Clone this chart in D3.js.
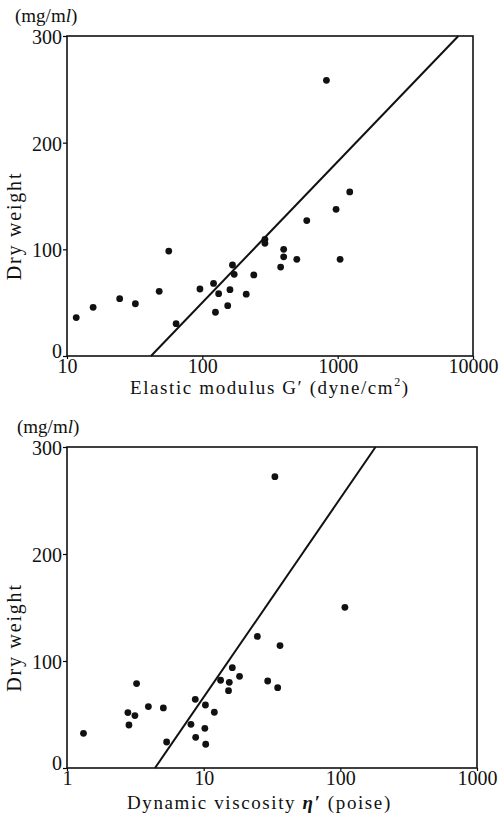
<!DOCTYPE html>
<html>
<head>
<meta charset="utf-8">
<script src="https://cdn.jsdelivr.net/npm/d3@7/dist/d3.min.js"></script>
<style>
    body { margin: 0; background: #fff; }
</style>
</head>
<body>
<div id="chart"></div>
<script>
// values
const modulusG = [11.7, 15.6, 24.5, 32, 48, 56.5, 64, 96, 121, 132, 125, 160, 154, 167, 172, 211,
    240, 290, 290, 399, 399, 379, 499, 591, 973, 1042, 1228, 826];
const dryWeightTop = [36, 45.6, 53.7, 49, 60.6, 98.4, 30.3, 62.8, 68, 58.4, 41, 62.2, 47.2, 85.3, 76.6, 58,
    76, 109.4, 105.6, 100, 93, 83.4, 90.6, 127, 137.5, 90.6, 153.8, 258.4];

const viscosity = [1.32, 2.79, 2.84, 3.14, 3.23, 3.94, 5.07, 5.36, 8.07, 8.68, 8.74, 10.3, 10.2, 10.35,
    11.97, 13.3, 15.4, 15.2, 16.2, 18.3, 24.7, 36.2, 29.4, 34.8, 108, 33.2];
const dryWeightBottom = [32.4, 51.8, 40.2, 49, 78.9, 57.4, 56.1, 24.3, 40.8, 64.2, 28.7, 58.9, 37.1, 22.2,
    52.1, 82, 80.1, 72.3, 93.8, 85.7, 123, 114.4, 81.3, 75.1, 150.2, 272.3];

// regression lines: dry weight = intercept + slope * log10(x)
const fitTop = [-214.1, 132.1];
const fitBottom = [-119.7, 185.9];

const xTicksTop = [10, 100, 1000, 10000];
const xTicksBottom = [1, 10, 100, 1000];
const yTicks = [0, 100, 200, 300];

const SERIF = "'Liberation Serif', 'Times New Roman', 'DejaVu Serif', serif";

const svg = d3.select('#chart')
    .append('svg')
    .attr('width', 499)
    .attr('height', 818)
    .attr('font-family', SERIF);

function drawPanel(opts) {
    const x = d3.scaleLog()
        .domain(opts.xDomain)
        .range([opts.left, opts.right]);
    const y = d3.scaleLinear()
        .domain([0, 300])
        .range([opts.bottom, opts.top]);

    const g = svg.append('g');

    // y axis ticks
    const yAxis = d3.axisLeft(y)
        .tickValues(yTicks)
        .tickSize(4)
        .tickPadding(1)
        .tickFormat(d3.format('d'));
    const ya = g.append('g')
        .attr('transform', 'translate(' + opts.left + ',0)')
        .call(yAxis);
    ya.attr('font-family', SERIF);
    ya.select('.domain').remove();
    ya.selectAll('text')
        .attr('font-family', SERIF)
        .attr('font-size', 20)
        .attr('fill', '#111')
        .attr('dy', (d) => (d === 0 ? '0.05em' : '0.38em'));
    ya.selectAll('line').attr('stroke-width', 1.2);

    // x axis ticks
    const xAxis = d3.axisBottom(x)
        .tickValues(opts.xTicks)
        .tickSize(3)
        .tickPadding(0)
        .tickFormat(d3.format('d'));
    const xa = g.append('g')
        .attr('transform', 'translate(0,' + opts.bottom + ')')
        .call(xAxis);
    xa.attr('font-family', SERIF);
    xa.select('.domain').remove();
    xa.selectAll('text')
        .attr('font-family', SERIF)
        .attr('fill', '#111')
        .attr('font-size', 20);
    xa.selectAll('line').attr('stroke-width', 1.2);

    // frame
    g.append('rect')
        .attr('x', opts.left)
        .attr('y', opts.top)
        .attr('width', opts.right - opts.left)
        .attr('height', opts.bottom - opts.top)
        .attr('fill', 'none')
        .attr('stroke', '#111')
        .attr('stroke-width', 1.6);

    // fitted line from y = 0 up to y = 300
    const fitX = (v) => Math.pow(10, (v - opts.fit[0]) / opts.fit[1]);
    const linePts = [[fitX(0), 0], [fitX(300), 300]];
    g.append('path')
        .attr('d', d3.line().x((d) => x(d[0])).y((d) => y(d[1]))(linePts))
        .attr('fill', 'none')
        .attr('stroke', '#111')
        .attr('stroke-width', 2);

    // points
    g.selectAll('.dot')
        .data(opts.xs.map((v, i) => [v, opts.ys[i]]))
        .enter()
        .append('circle')
        .attr('class', 'dot')
        .attr('cx', (d) => x(d[0]))
        .attr('cy', (d) => y(d[1]))
        .attr('r', 3.4)
        .attr('fill', '#111');

    // unit label
    const unit = g.append('text')
        .attr('x', opts.unitX)
        .attr('y', opts.top - 14)
        .attr('font-size', 19)
        .attr('fill', '#111');
    unit.append('tspan').text('(mg/m');
    unit.append('tspan').attr('font-style', 'italic').text('l');
    unit.append('tspan').text(')');

    // y title
    g.append('text')
        .attr('transform', 'translate(21,' + ((opts.top + opts.bottom) / 2 + 30) + ') rotate(-90)')
        .attr('text-anchor', 'middle')
        .attr('font-size', 20)
        .attr('fill', '#111')
        .attr('letter-spacing', 1.8)
        .text('Dry weight');

    // x title
    const xt = g.append('text')
        .attr('x', opts.titleX)
        .attr('y', opts.bottom + opts.titleGap)
        .attr('font-size', 19)
        .attr('fill', '#111')
        .attr('letter-spacing', 1.6);
    opts.title(xt);
}

drawPanel({
    left: 67, right: 473, top: 36, bottom: 356,
    xDomain: [10, 10000],
    xTicks: xTicksTop,
    xs: modulusG,
    ys: dryWeightTop,
    fit: fitTop,
    unitX: 15,
    titleX: 130,
    titleGap: 38,
    title: (t) => {
        t.append('tspan').text('Elastic  modulus  G\u2032  (dyne/cm');
        t.append('tspan').attr('font-size', 12).attr('dy', -8).text('2');
        t.append('tspan').attr('dy', 8).text(')');
    },
});

drawPanel({
    left: 67, right: 477, top: 447, bottom: 768,
    xDomain: [1, 1000],
    xTicks: xTicksBottom,
    xs: viscosity,
    ys: dryWeightBottom,
    fit: fitBottom,
    unitX: 17,
    titleX: 127,
    titleGap: 41,
    title: (t) => {
        t.append('tspan').text('Dynamic  viscosity  ');
        t.append('tspan').attr('font-style', 'italic').attr('font-weight', 'bold').text('\u03b7\u2032');
        t.append('tspan').text('  (poise)');
    },
});
</script>
</body>
</html>
